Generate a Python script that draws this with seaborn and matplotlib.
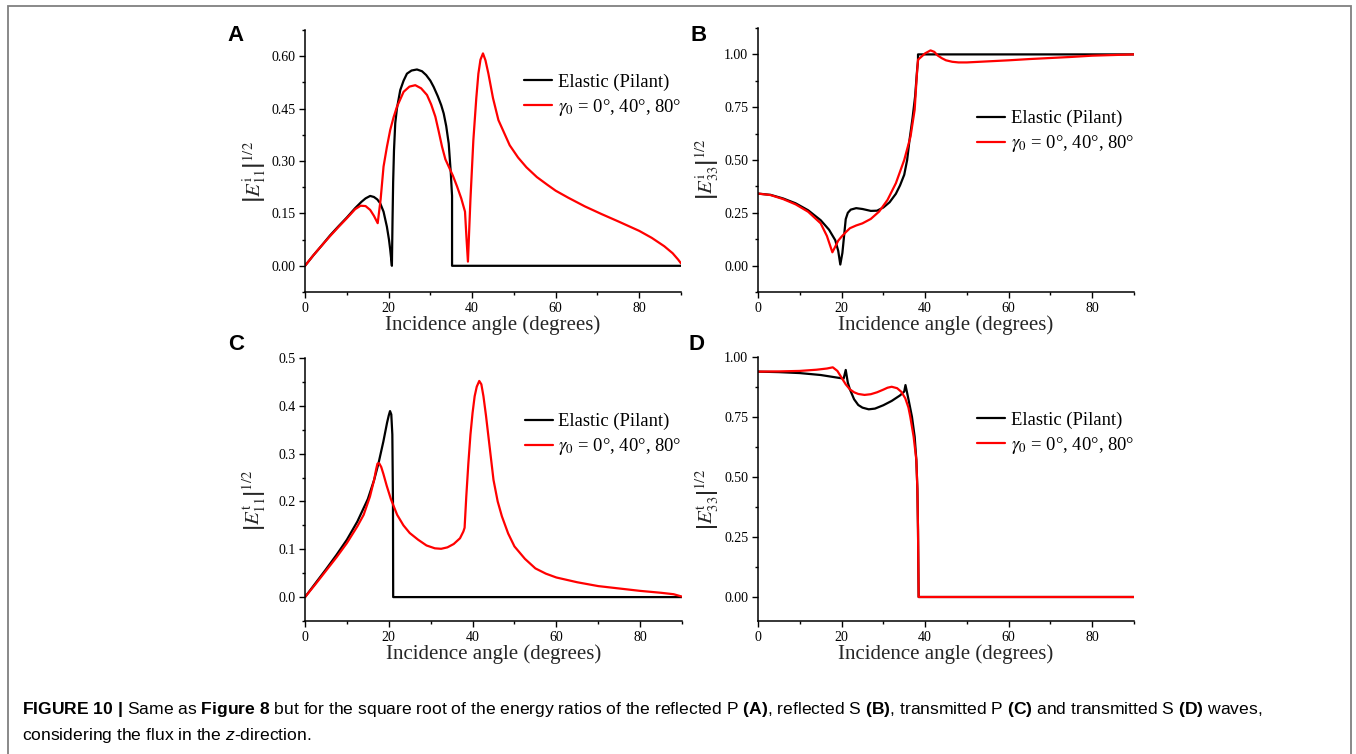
import matplotlib
matplotlib.use("Agg")
import matplotlib.pyplot as plt
from matplotlib.ticker import MultipleLocator, FormatStrFormatter
from matplotlib.patches import Rectangle
import seaborn as sns

# ---------------- data: incidence angle (degrees) vs |E|^(1/2) ----------------
# (A) reflected P, elastic (Pilant)
a_el_x = [0, 2, 4, 6, 8, 10, 12, 13.5, 14.5, 15.6, 16.5, 17.3, 18.0, 18.8, 19.6, 20.1,
          20.4, 20.8, 20.95, 21.1, 21.3, 21.6, 22.0, 22.8, 23.6, 24.4, 25.5, 26.8, 28.0,
          29.0, 30.0, 30.8, 31.8, 32.6, 33.2, 33.8, 34.4, 34.9, 35.2, 35.2, 90]
a_el_y = [0, 0.030, 0.058, 0.087, 0.113, 0.138, 0.165, 0.183, 0.193, 0.200, 0.197, 0.190,
          0.179, 0.155, 0.112, 0.075, 0.046, 0.0, 0.13, 0.24, 0.33, 0.408, 0.45, 0.503,
          0.53, 0.55, 0.559, 0.562, 0.557, 0.546, 0.53, 0.512, 0.485, 0.46, 0.436, 0.40,
          0.35, 0.265, 0.2, 0.0, 0.0]
# (A) reflected P, gamma_0 = 0, 40, 80 deg
a_ve_x = [0, 2, 4, 6, 8, 10, 12, 13.3, 14.5, 15.6, 16.5, 17.4, 18.1, 18.8, 19.6, 20.4,
          21.2, 22.0, 23.6, 25.0, 26.4, 27.8, 29.2, 30.2, 31.2, 32.0, 32.8, 33.6, 34.4,
          35.4, 36.4, 37.4, 38.3, 38.65, 39.0, 39.6, 40.3, 41.0, 41.5, 42.0, 42.6, 43.2,
          43.9, 45.0, 46.3, 47.5, 49.0, 51.0, 53.0, 55.5, 58.0, 60.0, 63.0, 67.0, 71.0,
          75.0, 80.0, 83.0, 86.0, 88.0, 89.3, 90.0]
a_ve_y = [0, 0.030, 0.058, 0.085, 0.111, 0.136, 0.162, 0.172, 0.171, 0.160, 0.143, 0.122,
          0.19, 0.284, 0.34, 0.389, 0.425, 0.455, 0.498, 0.513, 0.517, 0.508, 0.489, 0.462,
          0.427, 0.385, 0.341, 0.305, 0.284, 0.258, 0.227, 0.193, 0.155, 0.08, 0.012, 0.19,
          0.36, 0.48, 0.55, 0.59, 0.608, 0.588, 0.55, 0.48, 0.417, 0.385, 0.345, 0.31,
          0.282, 0.254, 0.232, 0.215, 0.195, 0.17, 0.148, 0.127, 0.1, 0.08, 0.056, 0.036,
          0.018, 0.007]

# (B) reflected S
b_el_x = [0, 3, 6, 9, 12, 15, 17, 18.5, 19.2, 19.7, 20.2, 20.7, 21.0, 21.5, 22.2, 23.5,
          25, 27, 28.5, 30, 31.5, 33, 34, 35, 35.7, 36.3, 37, 37.6, 38.1, 38.3, 38.3, 90]
b_el_y = [0.341, 0.335, 0.318, 0.295, 0.262, 0.215, 0.17, 0.12, 0.07, 0.005, 0.06, 0.16,
          0.22, 0.25, 0.265, 0.272, 0.268, 0.259, 0.26, 0.275, 0.30, 0.34, 0.38, 0.43,
          0.5, 0.6, 0.7, 0.8, 0.93, 0.97, 1.0, 1.0]
b_ve_x = [0, 3, 6, 9, 12, 15, 16.5, 17.8, 18.5, 19.2, 20, 21, 22, 23.5, 25, 27, 29, 31,
          33, 35, 36.5, 37.5, 38.0, 38.3, 39, 40, 41.3, 42.2, 43, 44, 45, 46.5, 48, 50,
          55, 60, 65, 70, 75, 80, 85, 90]
b_ve_y = [0.341, 0.334, 0.315, 0.29, 0.255, 0.2, 0.14, 0.063, 0.09, 0.118, 0.137, 0.158,
          0.177, 0.19, 0.2, 0.221, 0.256, 0.311, 0.39, 0.5, 0.61, 0.738, 0.896, 0.975,
          0.987, 1.005, 1.019, 1.012, 0.995, 0.982, 0.972, 0.965, 0.962, 0.962, 0.967,
          0.972, 0.978, 0.983, 0.988, 0.994, 0.997, 1.0]

# (C) transmitted P
c_el_x = [0, 2.5, 5, 7.5, 10, 12.5, 15, 16.5, 17.5, 18.7, 19.6, 20.0, 20.3, 20.6, 20.85,
          21.0, 21.05, 90]
c_el_y = [0, 0.029, 0.058, 0.088, 0.12, 0.158, 0.205, 0.245, 0.278, 0.325, 0.365, 0.38,
          0.389, 0.382, 0.34, 0.2, 0.0, 0.0]
c_ve_x = [0, 2.5, 5, 7.5, 10, 12.5, 14, 15.5, 16.5, 17.0, 17.3, 17.7, 18.2, 18.7, 19.5,
          20.5, 22, 23.5, 25, 27, 29, 31, 32.5, 34, 35.5, 37, 37.8, 38.1, 38.5, 39, 39.5,
          40, 40.5, 41, 41.6, 42.1, 42.6, 43.2, 44, 45, 46, 47, 48.5, 50, 52.5, 55, 57.5,
          60, 65, 70, 75, 80, 85, 88, 90]
c_ve_y = [0, 0.027, 0.055, 0.083, 0.113, 0.148, 0.172, 0.21, 0.245, 0.268, 0.279, 0.28,
          0.272, 0.258, 0.233, 0.205, 0.172, 0.15, 0.134, 0.12, 0.108, 0.102, 0.101,
          0.104, 0.111, 0.123, 0.137, 0.145, 0.21, 0.28, 0.34, 0.385, 0.42, 0.44, 0.452,
          0.445, 0.42, 0.38, 0.32, 0.245, 0.2, 0.169, 0.133, 0.106, 0.08, 0.06, 0.049,
          0.041, 0.031, 0.023, 0.018, 0.013, 0.009, 0.006, 0.001]

# (D) transmitted S
d_el_x = [0, 5, 10, 15, 19, 20.5, 21.0, 21.5, 22, 23, 24, 25, 26.5, 28, 30, 32, 34, 35,
          35.3, 36.05, 36.85, 37.5, 37.9, 38.15, 38.3, 38.45, 90]
d_el_y = [0.939, 0.937, 0.933, 0.925, 0.914, 0.91, 0.946, 0.893, 0.865, 0.824, 0.80,
          0.789, 0.782, 0.785, 0.799, 0.817, 0.84, 0.856, 0.883, 0.821, 0.751, 0.668,
          0.571, 0.45, 0.28, 0.0, 0.0]
d_ve_x = [0, 5, 10, 14, 16.5, 17.9, 19, 20, 21, 22, 23, 24, 25.5, 27, 28.5, 30, 31, 32,
          33.3, 34.3, 35.25, 36, 36.45, 37.25, 37.9, 38.15, 38.3, 38.45, 90]
d_ve_y = [0.939, 0.94, 0.942, 0.947, 0.952, 0.957, 0.942, 0.914, 0.886, 0.865, 0.853,
          0.846, 0.842, 0.845, 0.853, 0.864, 0.872, 0.876, 0.87, 0.855, 0.828, 0.79,
          0.751, 0.668, 0.571, 0.45, 0.28, 0.0, 0.0]

legend_labels = ["Elastic (Pilant)", r"$\gamma_0$ = 0°, 40°, 80°"]
xlabel_text = "Incidence angle (degrees)"
panel_letters = ["A", "B", "C", "D"]
ylabels = [r"$\left|E^{\mathrm{i}}_{11}\right|^{1/2}$",
           r"$\left|E^{\mathrm{i}}_{33}\right|^{1/2}$",
           r"$\left|E^{\mathrm{t}}_{11}\right|^{1/2}$",
           r"$\left|E^{\mathrm{t}}_{33}\right|^{1/2}$"]
caption_line1 = (r"$\mathbf{FIGURE\ 10\ |}$ Same as $\mathbf{Figure\ 8}$ but for the square "
                 r"root of the energy ratios of the reflected P $\mathbf{(A)}$, reflected S "
                 r"$\mathbf{(B)}$, transmitted P $\mathbf{(C)}$ and transmitted S "
                 r"$\mathbf{(D)}$ waves,")
caption_line2 = r"considering the flux in the $\mathit{z}$-direction."

# ---------------- style ----------------
sns.set_theme(style="ticks")
plt.rcParams.update({
    "font.family": ["Liberation Serif", "DejaVu Serif"],
    "mathtext.fontset": "stix",
    "mathtext.rm": "Liberation Sans",
    "mathtext.it": "Liberation Sans:italic",
    "mathtext.bf": "Liberation Sans:bold",
    "axes.linewidth": 1.1,
    "axes.edgecolor": "black",
    "xtick.color": "black",
    "ytick.color": "black",
    "text.color": "black",
})

W, H = 1356, 754
fig = plt.figure(figsize=(W / 100, H / 100), dpi=100)
fig.patch.set_facecolor("white")


def fx(px):
    return px / W


def fy(py):
    return 1 - py / H


# axes boxes in pixel coordinates: left, top, right, bottom
boxes = [(305, 30, 681, 292), (758, 28, 1134, 292),
         (305, 358, 682, 621), (758, 357, 1134, 621)]
ylims = [(-0.075, 0.675), (-0.125, 1.125), (-0.05, 0.5), (-0.1, 1.0)]
ymajor = [0.15, 0.25, 0.1, 0.25]
yfmt = ["%.2f", "%.2f", "%.1f", "%.2f"]
leg_y = [0.75, 0.605, 0.707, 0.71]
ylab_y = [0.459, 0.466, 0.46, 0.461]
letter_pos = [(227, 41), (690, 41), (228, 350), (688, 350)]
series = [(a_el_x, a_el_y, a_ve_x, a_ve_y),
          (b_el_x, b_el_y, b_ve_x, b_ve_y),
          (c_el_x, c_el_y, c_ve_x, c_ve_y),
          (d_el_x, d_el_y, d_ve_x, d_ve_y)]

for i in range(4):
    l, t, r, b = boxes[i]
    ax = fig.add_axes([fx(l), fy(b), (r - l) / W, (b - t) / H])
    ax.set_facecolor("white")
    ex, ey, vx, vy = series[i]
    sns.lineplot(x=ex, y=ey, ax=ax, color="black", lw=1.6, estimator=None,
                 sort=False, label=legend_labels[0])
    sns.lineplot(x=vx, y=vy, ax=ax, color="#ff0000", lw=1.6, estimator=None,
                 sort=False, label=legend_labels[1])
    ax.set_xlim(0, 90)
    ax.set_ylim(*ylims[i])
    sns.despine(ax=ax)
    ax.xaxis.set_major_locator(MultipleLocator(20))
    ax.xaxis.set_minor_locator(MultipleLocator(10))
    ax.yaxis.set_major_locator(MultipleLocator(ymajor[i]))
    ax.yaxis.set_minor_locator(MultipleLocator(ymajor[i] / 2))
    ax.yaxis.set_major_formatter(FormatStrFormatter(yfmt[i]))
    ax.tick_params(which="major", direction="out", length=4, width=1.0,
                   labelsize=10, pad=3)
    ax.tick_params(which="minor", direction="out", length=2.3, width=1.0)
    ax.set_xlabel(xlabel_text, fontsize=15)
    ax.xaxis.set_label_coords(0.5, -0.126)
    ax.xaxis.label.set_va("center")
    ax.set_ylabel(ylabels[i], fontsize=15)
    ax.yaxis.set_label_coords(-0.134, ylab_y[i])
    ax.yaxis.label.set_va("center")
    ax.legend(loc="center left", bbox_to_anchor=(0.583, leg_y[i]), frameon=False,
              fontsize=13.4, handlelength=1.5, handletextpad=0.3, borderpad=0,
              borderaxespad=0, labelspacing=0.32)
    lx, ly = letter_pos[i]
    fig.text(fx(lx), fy(ly), panel_letters[i], fontsize=16, fontweight="bold",
             family="Liberation Sans", ha="left", va="baseline")

# caption
fig.text(fx(22), fy(714), caption_line1, fontsize=12.6, family="Liberation Sans",
         ha="left", va="baseline", math_fontfamily="custom")
fig.text(fx(22), fy(740), caption_line2, fontsize=12.6, family="Liberation Sans",
         ha="left", va="baseline", math_fontfamily="custom")

# outer frame (open at the bottom edge of the canvas)
fig.patches.append(Rectangle((fx(8), -0.1), fx(1351) - fx(8), fy(6.5) + 0.1,
                             transform=fig.transFigure, fill=False,
                             edgecolor="#808080", lw=1.3, clip_on=False))

fig.savefig("out.png", dpi=100, facecolor="white")
